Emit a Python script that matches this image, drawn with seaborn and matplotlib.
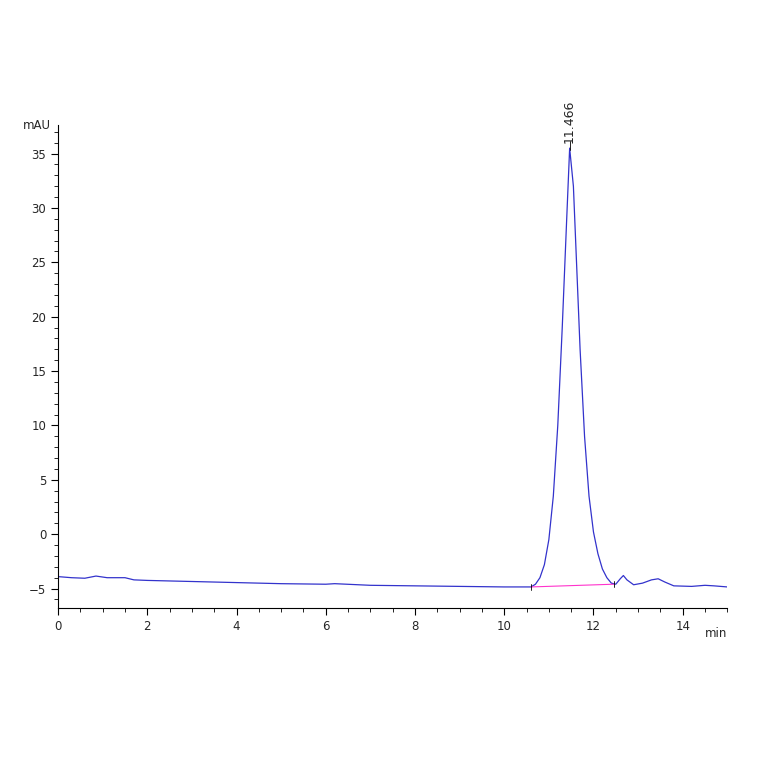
import matplotlib
matplotlib.use("Agg")
import matplotlib.pyplot as plt
import seaborn as sns
import pandas as pd
from matplotlib.ticker import MultipleLocator

time = [0, 0.3, 0.6, 0.85, 1.1, 1.5, 1.7, 2, 3, 4, 5, 6, 6.2, 7, 8, 9, 10, 10.5, 10.6, 10.7, 10.8,
        10.9, 11.0, 11.1, 11.2, 11.3, 11.4, 11.466, 11.55, 11.6, 11.7, 11.8, 11.9, 12.0, 12.1, 12.2,
        12.3, 12.4, 12.5, 12.6, 12.67, 12.75, 12.9, 13.1, 13.3, 13.45, 13.6, 13.8, 14.2, 14.5, 14.7, 15]
signal = [-3.9, -4.0, -4.05, -3.85, -4.0, -4.0, -4.2, -4.25, -4.35, -4.45, -4.55, -4.6, -4.55, -4.7,
          -4.75, -4.8, -4.85, -4.85, -4.85, -4.6, -4.0, -2.8, -0.5, 3.5, 10, 19, 29, 35.5, 32, 27, 17,
          9, 3.5, 0.2, -1.8, -3.2, -4.0, -4.5, -4.6, -4.1, -3.8, -4.2, -4.65, -4.5, -4.2, -4.1, -4.4,
          -4.75, -4.8, -4.7, -4.75, -4.85]
base_t = [10.6, 12.45]
base_v = [-4.85, -4.6]
peak_label = "11.466"

sns.set_style("white")
fig = plt.figure(figsize=(7.64, 7.64), dpi=100)
ax = fig.add_axes([0.076, 0.204, 0.876, 0.632])
df = pd.DataFrame({"t": time, "v": signal})
sns.lineplot(data=df, x="t", y="v", ax=ax, color="#3333cc", linewidth=0.9, estimator=None, sort=False)
ax.plot(base_t, base_v, color="#ff33cc", linewidth=0.8)
for bt, bv in zip(base_t, base_v):
    ax.plot([bt, bt], [bv - 0.3, bv + 0.3], color="black", linewidth=0.6)
ax.text(11.466, 36.0, peak_label, rotation=90, ha="center", va="bottom", fontsize=9)
ax.plot([11.466, 11.466], [35.3, 36.2], color="black", lw=0.6)

ax.set_xlim(0, 15)
ax.set_ylim(-6.8, 37.6)
ax.xaxis.set_major_locator(MultipleLocator(2))
ax.xaxis.set_minor_locator(MultipleLocator(0.5))
ax.yaxis.set_major_locator(MultipleLocator(5))
ax.yaxis.set_minor_locator(MultipleLocator(1))
ax.tick_params(which="both", direction="out", color="black", labelsize=8.5)
ax.tick_params(which="major", length=5, width=0.8, bottom=True, left=True)
ax.tick_params(which="minor", length=3, width=0.6, bottom=True, left=True)
for s in ["top", "right"]:
    ax.spines[s].set_visible(False)
for s in ["left", "bottom"]:
    ax.spines[s].set_color("black")
    ax.spines[s].set_linewidth(0.8)
ax.set_xlabel("")
ax.set_ylabel("")
ax.text(-0.01, 1.0, "mAU", transform=ax.transAxes, ha="right", va="center", fontsize=8.5)
ax.text(1.0, -0.04, "min", transform=ax.transAxes, ha="right", va="top", fontsize=8.5)
ax.set_xticks([0, 2, 4, 6, 8, 10, 12, 14])
fig.savefig("out.png", dpi=100)
